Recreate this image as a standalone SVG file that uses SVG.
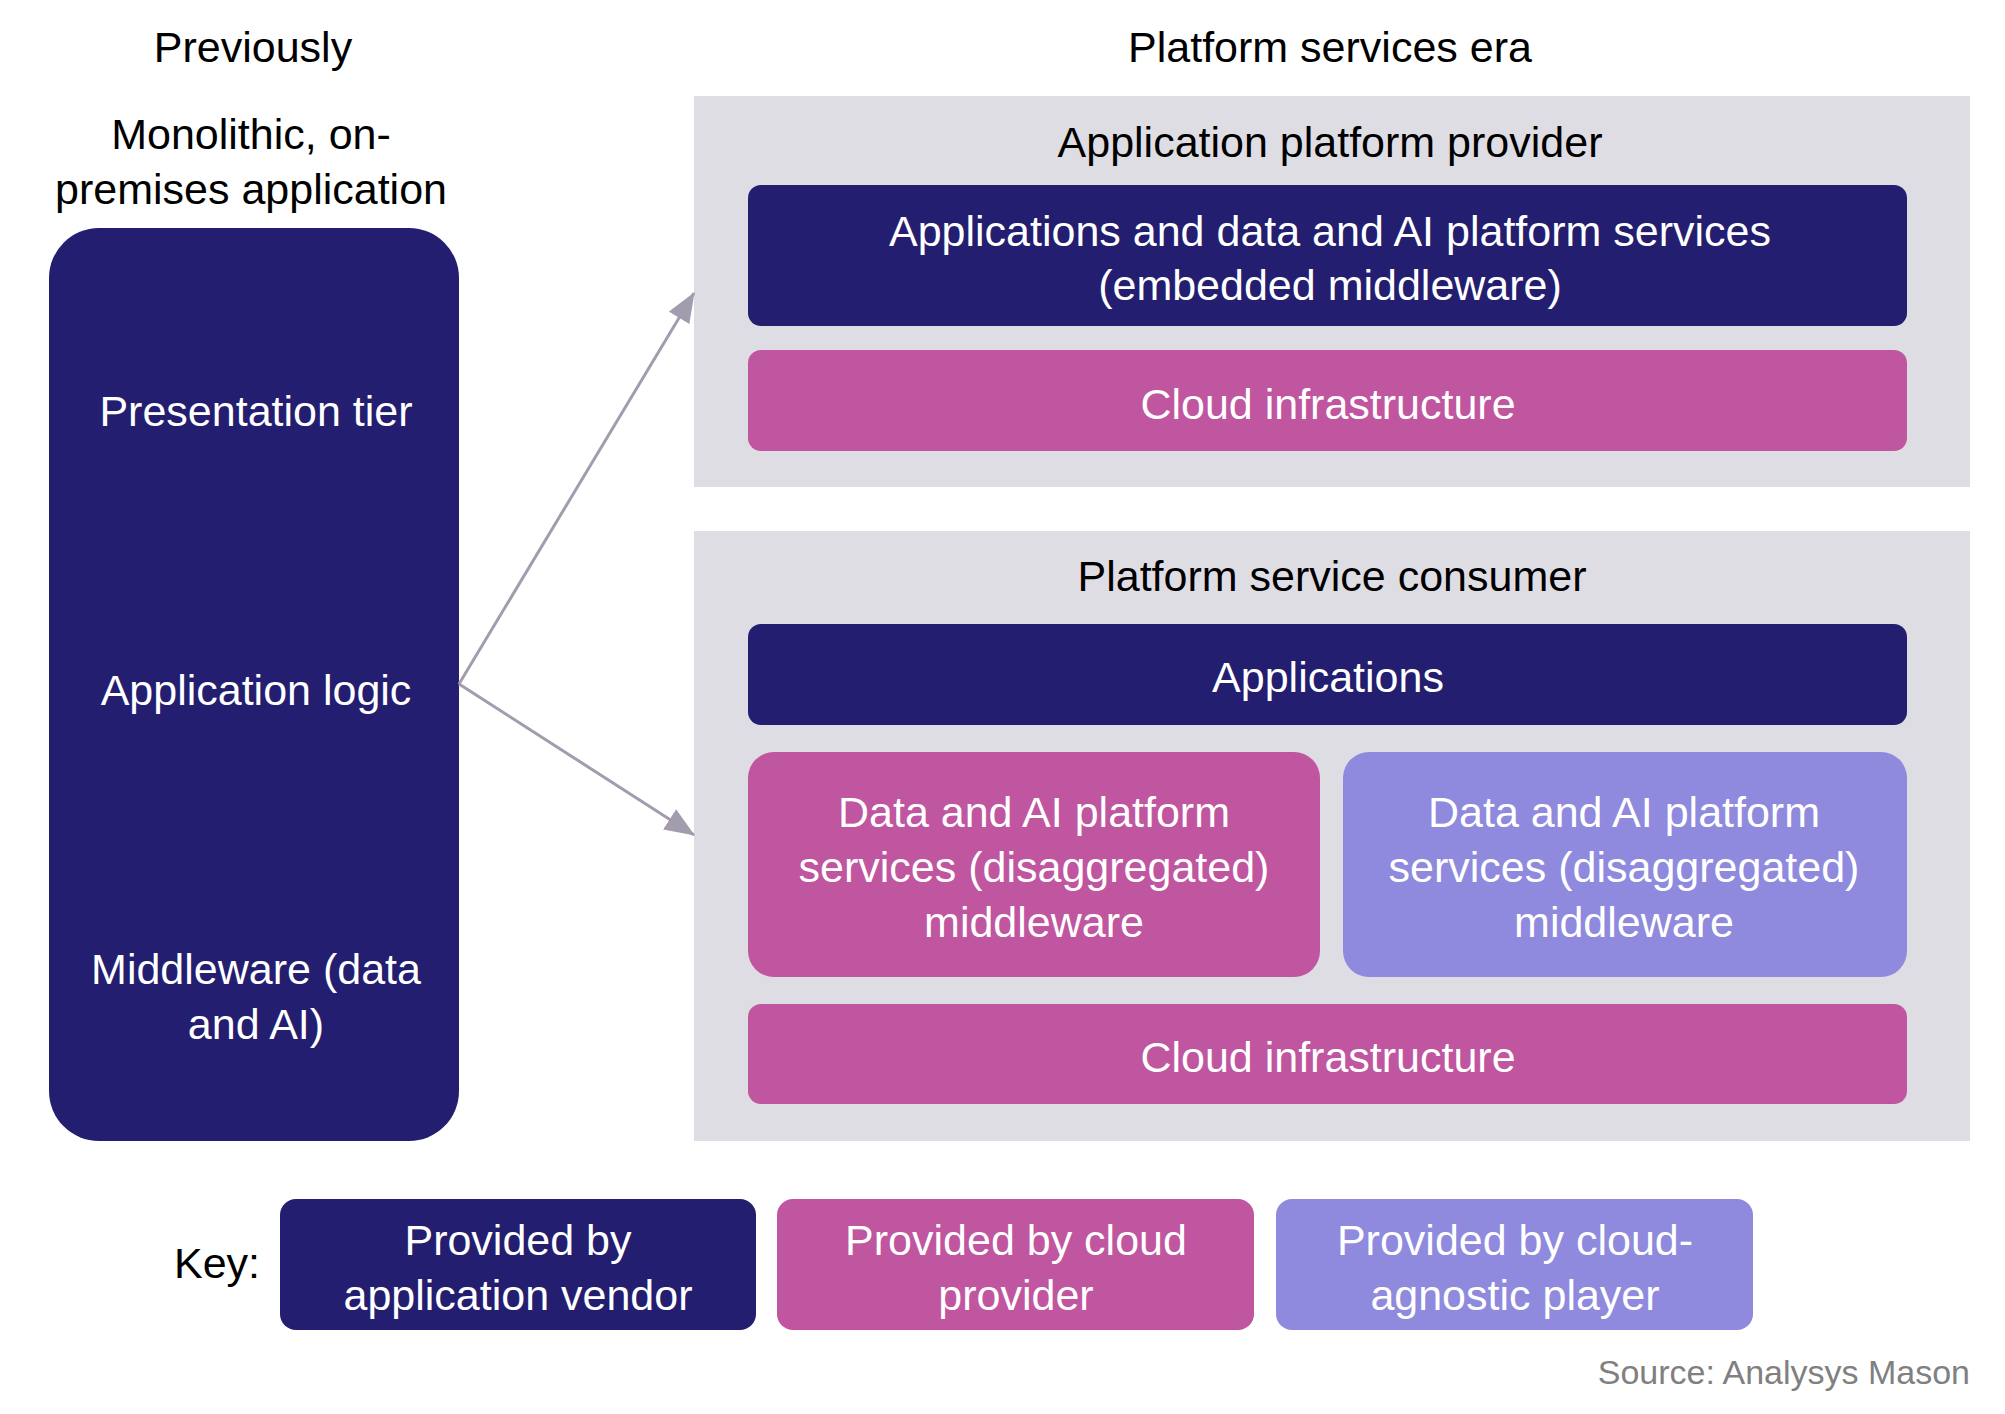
<svg xmlns="http://www.w3.org/2000/svg" width="2005" height="1414" viewBox="0 0 2005 1414">
<style>
text{font-family:"Liberation Sans",Arial,sans-serif;font-size:43px;text-anchor:middle}
.k{fill:#000}
.w{fill:#fff}
.navy{fill:#231E6F}
.pink{fill:#C055A0}
.purp{fill:#8F8ADE}
.panel{fill:#DFDDE4}
.src{fill:#808080;font-size:34px;text-anchor:end}
.conn{stroke:#A39BAE;stroke-width:3;fill:none}
</style>
<defs>
<marker id="ah" viewBox="0 0 30 24" refX="29" refY="12" markerWidth="30" markerHeight="24" markerUnits="userSpaceOnUse" orient="auto">
<path d="M0,0 L30,12 L0,24 Z" fill="#A39BAE"/>
</marker>
</defs>
<rect width="2005" height="1414" fill="#fff"/>
<g id="headings">
<text class="k" x="253" y="62">Previously</text>
<text class="k" x="1330" y="62">Platform services era</text>
</g>
<g id="monolith">
<text class="k" x="251" y="149">Monolithic, on-</text>
<text class="k" x="251" y="204">premises application</text>
<rect class="navy" x="49" y="228" width="410" height="913" rx="50"/>
<text class="w" x="256" y="426">Presentation tier</text>
<text class="w" x="256" y="705">Application logic</text>
<text class="w" x="256" y="984">Middleware (data</text>
<text class="w" x="256" y="1039">and AI)</text>
</g>
<g id="provider">
<rect class="panel" x="694" y="96" width="1276" height="391"/>
<text class="k" x="1330" y="157">Application platform provider</text>
<rect class="navy" x="748" y="185" width="1159" height="141" rx="13"/>
<text class="w" x="1330" y="246">Applications and data and AI platform services</text>
<text class="w" x="1330" y="300">(embedded middleware)</text>
<rect class="pink" x="748" y="350" width="1159" height="101" rx="13"/>
<text class="w" x="1328" y="419">Cloud infrastructure</text>
</g>
<g id="consumer">
<rect class="panel" x="694" y="531" width="1276" height="610"/>
<text class="k" x="1332" y="591">Platform service consumer</text>
<rect class="navy" x="748" y="624" width="1159" height="101" rx="13"/>
<text class="w" x="1328" y="692">Applications</text>
<rect class="pink" x="748" y="752" width="572" height="225" rx="26"/>
<text class="w" x="1034" y="827">Data and AI platform</text>
<text class="w" x="1034" y="882">services (disaggregated)</text>
<text class="w" x="1034" y="937">middleware</text>
<rect class="purp" x="1343" y="752" width="564" height="225" rx="26"/>
<text class="w" x="1624" y="827">Data and AI platform</text>
<text class="w" x="1624" y="882">services (disaggregated)</text>
<text class="w" x="1624" y="937">middleware</text>
<rect class="pink" x="748" y="1004" width="1159" height="100" rx="13"/>
<text class="w" x="1328" y="1072">Cloud infrastructure</text>
</g>
<g id="connectors">
<line class="conn" x1="459" y1="684" x2="694" y2="293" marker-end="url(#ah)"/>
<line class="conn" x1="459" y1="684" x2="694" y2="835" marker-end="url(#ah)"/>
</g>
<g id="key">
<text class="k" x="217" y="1278">Key:</text>
<rect class="navy" x="280" y="1199" width="476" height="131" rx="16"/>
<text class="w" x="518" y="1255">Provided by</text>
<text class="w" x="518" y="1310">application vendor</text>
<rect class="pink" x="777" y="1199" width="477" height="131" rx="16"/>
<text class="w" x="1016" y="1255">Provided by cloud</text>
<text class="w" x="1016" y="1310">provider</text>
<rect class="purp" x="1276" y="1199" width="477" height="131" rx="16"/>
<text class="w" x="1515" y="1255">Provided by cloud-</text>
<text class="w" x="1515" y="1310">agnostic player</text>
</g>
<g id="source">
<text class="src" x="1970" y="1384">Source: Analysys Mason</text>
</g>
</svg>
